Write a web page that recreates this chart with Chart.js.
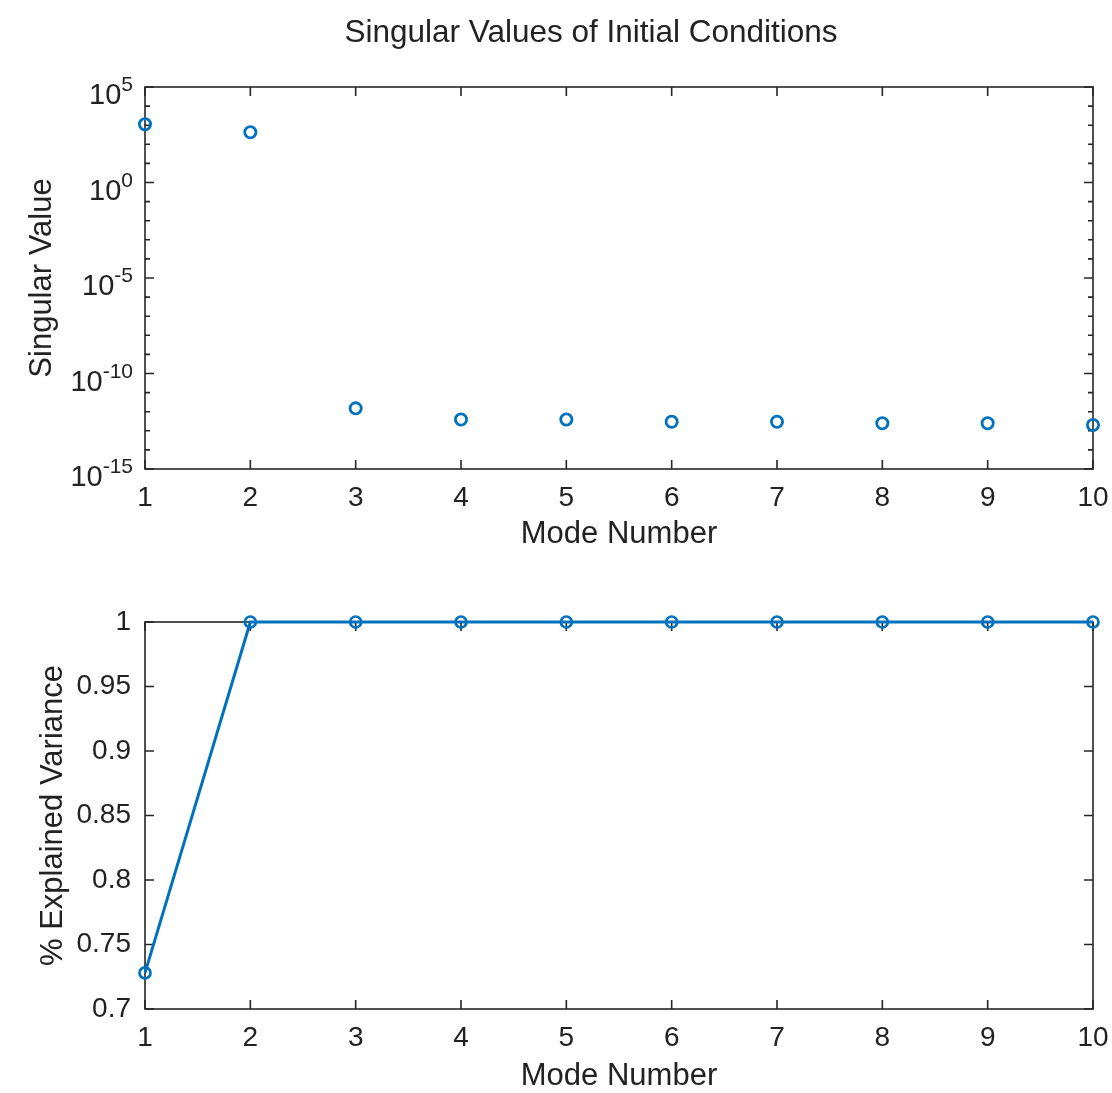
<!DOCTYPE html>
<html>
<head>
<meta charset="utf-8">
<script src="https://cdn.jsdelivr.net/npm/chart.js@4/dist/chart.umd.min.js"></script>
<style>
  html, body { margin: 0; padding: 0; background: #fff; }
  #wrap { position: relative; width: 1112px; height: 1093px; overflow: hidden; }
  canvas { position: absolute; left: 0; }
  #svCanvas { top: 0; }
  #varCanvas { top: 560px; }
</style>
</head>
<body>
<div id="wrap">
  <canvas id="svCanvas" width="1112" height="560"></canvas>
  <canvas id="varCanvas" width="1112" height="533"></canvas>
</div>
<script>
// Data
const modes = [1, 2, 3, 4, 5, 6, 7, 8, 9, 10];
const singularValues = [1130, 430, 1.5e-12, 3.9e-13, 3.9e-13, 3.0e-13, 3.0e-13, 2.5e-13, 2.5e-13, 2.0e-13];
const explainedVariance = [0.728, 1, 1, 1, 1, 1, 1, 1, 1, 1];
const logExponents = [-15, -14, -13, -12, -11, -10, -9, -8, -7, -6, -5, -4, -3, -2, -1, 0, 1, 2, 3, 4, 5];
const varianceTicks = [0.7, 0.75, 0.8, 0.85, 0.9, 0.95, 1];

const FONT = '"Liberation Sans", Arial, Helvetica, sans-serif';
const TEXT = "#222222";
const BLUE = "#0072BD";

Chart.defaults.font.family = FONT;
Chart.defaults.color = TEXT;
Chart.defaults.animation = false;

// MATLAB-style box with inward ticks on all four sides
const matlabBox = {
  id: "matlabBox",
  beforeDatasetsDraw(chart) {
    const { ctx, chartArea: a, scales } = chart;
    const x = scales.x, y = scales.y;
    ctx.save();
    ctx.strokeStyle = "#262626";
    ctx.lineWidth = 1.6;
    ctx.strokeRect(a.left, a.top, a.right - a.left, a.bottom - a.top);
    ctx.beginPath();
    x.ticks.forEach((t) => {
      const px = x.getPixelForValue(t.value);
      ctx.moveTo(px, a.bottom);
      ctx.lineTo(px, a.bottom - 9);
      ctx.moveTo(px, a.top);
      ctx.lineTo(px, a.top + 9);
    });
    y.ticks.forEach((t) => {
      const py = y.getPixelForValue(t.value);
      const len = t.minorTick ? 5 : 9;
      ctx.moveTo(a.left, py);
      ctx.lineTo(a.left + len, py);
      ctx.moveTo(a.right, py);
      ctx.lineTo(a.right - len, py);
    });
    ctx.stroke();
    ctx.restore();
  },
};

// figure title + 10^n labels for the log axis
const svLabels = {
  id: "svLabels",
  afterDraw(chart) {
    const { ctx, chartArea: a, scales } = chart;
    const y = scales.y;
    ctx.save();
    ctx.fillStyle = TEXT;
    ctx.font = "31.5px " + FONT;
    ctx.textAlign = "center";
    ctx.textBaseline = "middle";
    ctx.fillText("Singular Values of Initial Conditions", 591, 33);

    ctx.textBaseline = "alphabetic";
    y.ticks.forEach((t) => {
      if (t.minorTick) return;
      const py = y.getPixelForValue(t.value);
      const exp = String(Math.round(Math.log10(t.value)));
      ctx.font = "21px " + FONT;
      const ew = ctx.measureText(exp).width;
      ctx.textAlign = "right";
      const right = a.left - 12;
      ctx.fillText(exp, right, py + 4);
      ctx.font = "29px " + FONT;
      ctx.fillText("10", right - ew, py + 17);
    });
    ctx.restore();
  },
};

function xScale(height, titleBottom, titleLine) {
  return {
    type: "linear",
    min: 1,
    max: 10,
    afterFit: (s) => {
      s.height = height;
      s.paddingLeft = 0;
      s.paddingRight = 0;
    },
    afterBuildTicks: (s) => { s.ticks = modes.map((m) => ({ value: m })); },
    grid: { display: false, drawTicks: false },
    border: { display: false },
    ticks: { font: { size: 28 }, padding: 12, maxRotation: 0, autoSkip: false, color: TEXT },
    title: {
      display: true,
      text: "Mode Number",
      font: { size: 31, lineHeight: titleLine },
      color: TEXT,
      padding: { top: 0, bottom: titleBottom },
    },
  };
}

function renderSingularChart() {
  const ctx = document.getElementById("svCanvas").getContext("2d");
  new Chart(ctx, {
    type: "scatter",
    data: {
      datasets: [
        {
          data: modes.map((m, i) => ({ x: m, y: singularValues[i] })),
          showLine: false,
          pointStyle: "circle",
          pointRadius: 5.6,
          pointBorderWidth: 2.8,
          pointBorderColor: BLUE,
          pointBackgroundColor: "rgba(0,0,0,0)",
          clip: false,
        },
      ],
    },
    options: {
      responsive: false,
      devicePixelRatio: 1,
      layout: { padding: { top: 87, right: 19, left: 0, bottom: 0 } },
      plugins: { legend: { display: false }, tooltip: { enabled: false } },
      scales: {
        x: xScale(91, 8, 1.1),
        y: {
          type: "logarithmic",
          min: 1e-15,
          max: 1e5,
          afterFit: (s) => { s.width = 145; },
          afterBuildTicks: (s) => {
            s.ticks = logExponents.map((e) => ({ value: Math.pow(10, e), minorTick: e % 5 !== 0 }));
          },
          grid: { display: false, drawTicks: false },
          border: { display: false },
          ticks: { display: false },
          title: {
            display: true,
            text: "Singular Value",
            font: { size: 31, lineHeight: 1.1 },
            color: TEXT,
            padding: { top: 25, bottom: 0 },
          },
        },
      },
    },
    plugins: [matlabBox, svLabels],
  });
}

function renderVarianceChart() {
  const ctx = document.getElementById("varCanvas").getContext("2d");
  new Chart(ctx, {
    type: "line",
    data: {
      datasets: [
        {
          data: modes.map((m, i) => ({ x: m, y: explainedVariance[i] })),
          borderColor: BLUE,
          borderWidth: 3,
          tension: 0,
          pointStyle: "circle",
          pointRadius: 5.5,
          pointBorderWidth: 2.7,
          pointBorderColor: BLUE,
          pointBackgroundColor: "rgba(0,0,0,0)",
          clip: false,
        },
      ],
    },
    options: {
      responsive: false,
      devicePixelRatio: 1,
      layout: { padding: { top: 62, right: 19, left: 0, bottom: 0 } },
      plugins: { legend: { display: false }, tooltip: { enabled: false } },
      scales: {
        x: xScale(84, 1, 1.0),
        y: {
          type: "linear",
          min: 0.7,
          max: 1,
          afterFit: (s) => {
            s.width = 145;
            s.paddingTop = 0;
            s.paddingBottom = 0;
          },
          afterBuildTicks: (s) => { s.ticks = varianceTicks.map((v) => ({ value: v })); },
          grid: { display: false, drawTicks: false },
          border: { display: false },
          ticks: {
            font: { size: 28 },
            padding: 14,
            color: TEXT,
            callback: (v) => String(Number(v.toFixed(2))),
          },
          title: {
            display: true,
            text: "% Explained Variance",
            font: { size: 31, lineHeight: 1.1 },
            color: TEXT,
            padding: { top: 36, bottom: 0 },
          },
        },
      },
    },
    plugins: [matlabBox],
  });
}

renderSingularChart();
renderVarianceChart();
</script>
</body>
</html>
